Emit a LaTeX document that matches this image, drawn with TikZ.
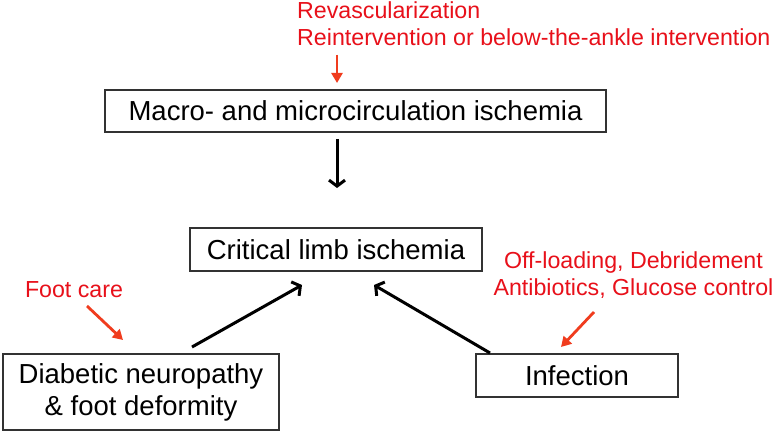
\documentclass[tikz,border=0pt]{standalone}
\usepackage{fontspec}
\setmainfont{Liberation Sans}
\usetikzlibrary{arrows.meta}
\definecolor{txtred}{RGB}{232,16,26}
\definecolor{arrred}{RGB}{240,60,30}
\definecolor{boxgray}{RGB}{50,50,50}
\tikzset{
  box/.style={draw=boxgray, line width=1.2pt, inner sep=0pt, align=center,
    font=\fontsize{27.5}{33}\selectfont},
  redtxt/.style={text=txtred, inner sep=0pt, font=\fontsize{23.2}{27}\selectfont},
  blkarrow/.style={line width=3pt, -{Straight Barb[length=6pt,width=16pt,line width=3pt]}},
  redarrow/.style={draw=arrred, line width=2.8pt, -{Triangle[length=10pt,width=11pt]}, fill=arrred}
}
\begin{document}
\begin{tikzpicture}[x=1pt,y=-1pt]
\useasboundingbox (0,0) rectangle (774,433);
\fill[white] (0,0) rectangle (774,433);
% boxes
\node[box, minimum width=501pt, minimum height=42pt] (macro) at (355.5,111) {Macro- and microcirculation ischemia};
\node[box, minimum width=292pt, minimum height=43pt] (crit) at (336,249.5) {Critical limb ischemia};
\node[box, minimum width=276pt, minimum height=76pt] (diab) at (141,392) {Diabetic neuropathy\\[-1pt] \& foot deformity};
\node[box, minimum width=202pt, minimum height=43pt] (infect) at (577,375.5) {Infection};
% red texts
\node[redtxt, anchor=base west] (revasc) at (297,19) {Revascularization};
\node[redtxt, anchor=base west] (reint) at (297,45.5) {Reintervention or below-the-ankle intervention};
\node[redtxt, anchor=base] (foot) at (74,297) {Foot care};
\node[redtxt, anchor=base] (offl) at (633.5,268) {Off-loading, Debridement};
\node[redtxt, anchor=base] (antib) at (633.5,295) {Antibiotics, Glucose control};
% arrow end points
\coordinate (r1s) at (337,55);
\coordinate (r1e) at (337,83);
\coordinate (r2s) at (87,306);
\coordinate (r2e) at (123,340);
\coordinate (r3s) at (594,312);
\coordinate (r3e) at (561,347);
\coordinate (b1s) at (337,139);
\coordinate (b1e) at (337,188);
\coordinate (b2s) at (192,347);
\coordinate (b2e) at (302,285);
\coordinate (b3s) at (490,353);
\coordinate (b3e) at (374,285);
% black connectors
\draw[blkarrow] (b1s) -- (b1e);
\draw[blkarrow] (b2s) -- (b2e);
\draw[blkarrow] (b3s) -- (b3e);
% red connectors
\draw[redarrow] (r1s) -- (r1e);
\draw[redarrow] (r2s) -- (r2e);
\draw[redarrow] (r3s) -- (r3e);
\end{tikzpicture}
\end{document}
